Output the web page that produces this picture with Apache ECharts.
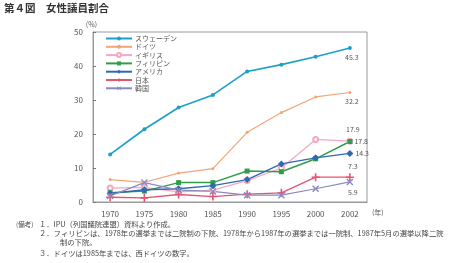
<!DOCTYPE html>
<html>
<head>
<meta charset="utf-8">
<script src="https://cdn.jsdelivr.net/npm/echarts@6/dist/echarts.min.js"></script>
<style>
html, body { margin: 0; padding: 0; background: #fff; }
#chart { width: 474px; height: 263px; }
</style>
</head>
<body>
<div id="chart"></div>
<script>
// 年
const years = ['1970', '1975', '1980', '1985', '1990', '1995', '2000', '2002'];
// 各国の女性議員割合 (%)
const sweden = [14.0, 21.4, 27.8, 31.5, 38.4, 40.4, 42.7, 45.3];
const germany = [6.6, 5.8, 8.5, 9.8, 20.5, 26.3, 30.9, 32.2];
const uk = [4.1, 4.3, 3.0, 3.5, 6.3, 10.0, 18.4, 17.9];
const philippines = [2.7, 3.2, 5.7, 5.7, 9.1, 8.9, 12.7, 17.8];
const usa = [2.5, 3.6, 3.9, 4.8, 6.6, 11.2, 13.0, 14.3];
const japan = [1.4, 1.2, 2.2, 1.6, 2.3, 2.7, 7.3, 7.3];
const korea = [1.8, 5.7, 3.5, 3.1, 2.0, 2.0, 3.9, 5.9];
const yTicks = [0, 10, 20, 30, 40, 50];

const FONT = '"Noto Sans CJK JP", "Noto Sans", sans-serif';
const NOTE_FONT = '7.3px "Noto Sans CJK JP"';
const plusPath = 'path://M4,0H6V4H10V6H6V10H4V6H0V4H4Z';
const crossPath = 'path://M1.4,0L5,3.6L8.6,0L10,1.4L6.4,5L10,8.6L8.6,10L5,6.4L1.4,10L0,8.6L3.6,5L0,1.4Z';

// 最後の点だけ数値ラベルを付ける
const withEndLabel = (arr, pos, offset) => arr.map((v, i) => {
	if (i !== arr.length - 1) return v;
	return {
		value: v,
		label: {
			show: true,
			position: pos,
			distance: 2,
			offset: offset || [0, 0],
			fontSize: 7,
			color: '#555',
			fontFamily: FONT,
			formatter: p => p.value.toFixed(1),
		},
	};
});

const makeSeries = (name, data, color, symbol, size, width, pos, offset) => ({
	name: name,
	type: 'line',
	data: withEndLabel(data, pos, offset),
	symbol: symbol,
	symbolSize: size,
	itemStyle: { color: color },
	lineStyle: { color: color, width: width },
	z: 3,
});

let myChart = echarts.init(document.getElementById('chart'));
myChart.setOption({
	animation: false,
	backgroundColor: '#fff',
	textStyle: { fontFamily: FONT },
	grid: {
		left: 93,
		right: 107,
		top: 32,
		bottom: 61,
		show: true,
		borderColor: '#9a9a9a',
		borderWidth: 1,
	},
	legend: {
		orient: 'vertical',
		left: 105,
		top: 35,
		padding: 0,
		itemWidth: 26,
		itemHeight: 5,
		itemGap: 1.3,
		itemStyle: { borderWidth: 0 },
		textStyle: { fontSize: 7, lineHeight: 6, color: '#555', fontFamily: FONT, padding: [0, 0, 0, -2] },
		data: ['スウェーデン', 'ドイツ', 'イギリス', 'フィリピン', 'アメリカ', '日本', '韓国'],
	},
	xAxis: {
		type: 'category',
		data: years,
		boundaryGap: true,
		axisLine: { lineStyle: { color: '#9a9a9a' } },
		axisTick: { inside: true, length: 3, lineStyle: { color: '#777' } },
		axisLabel: { fontSize: 8, color: '#555', margin: 8 },
		splitLine: { show: false },
	},
	yAxis: {
		type: 'value',
		min: yTicks[0],
		max: yTicks[yTicks.length - 1],
		interval: 10,
		name: '(%)',
		nameGap: 3,
		nameTextStyle: { fontSize: 7, color: '#555', align: 'right', padding: [0, -4, 0, 0] },
		axisLine: { show: true, lineStyle: { color: '#9a9a9a' } },
		axisTick: { show: true, inside: true, length: 3, lineStyle: { color: '#777' } },
		axisLabel: { fontSize: 8, color: '#555', margin: 10 },
		splitLine: { show: false },
	},
	series: [
		makeSeries('スウェーデン', sweden, '#1ba1c6', 'circle', 4, 1.6, 'bottom', [2, 2]),
		makeSeries('ドイツ', germany, '#f2a577', 'circle', 3, 1.2, 'bottom', [2, 2]),
		makeSeries('イギリス', uk, '#f3a9c3', 'emptyCircle', 5, 1.2, 'top', [3, -3]),
		makeSeries('フィリピン', philippines, '#2f9e48', 'rect', 5, 1.5, 'right', [0, 0]),
		makeSeries('アメリカ', usa, '#2e69b1', 'diamond', 7, 1.3, 'right', [0, 0]),
		makeSeries('日本', japan, '#e65570', plusPath, 8, 1.3, 'top', [3, -1]),
		makeSeries('韓国', korea, '#8c89c2', crossPath, 7, 1.2, 'bottom', [3, 1]),
	],
	graphic: [
		{ type: 'text', left: 4, top: 3, style: { text: '第４図　女性議員割合', font: 'bold 10.5px "Noto Sans CJK JP"', fill: '#333' } },
		{ type: 'text', left: 372, top: 209, style: { text: '(年)', font: '7px "Noto Sans CJK JP"', fill: '#555' } },
		{ type: 'text', left: 16, top: 221, style: { text: '(備考)', font: '6.5px "Noto Sans CJK JP"', fill: '#444' } },
		{ type: 'text', left: 39, top: 221, style: { text: '１．IPU（列国議院連盟）資料より作成。', font: NOTE_FONT, fill: '#444' } },
		{ type: 'text', left: 39, top: 230, style: { text: '２．フィリピンは、1978年の選挙までは二院制の下院、1978年から1987年の選挙までは一院制、1987年5月の選挙以降二院', font: NOTE_FONT, fill: '#444' } },
		{ type: 'text', left: 60, top: 239, style: { text: '制の下院。', font: NOTE_FONT, fill: '#444' } },
		{ type: 'text', left: 39, top: 250, style: { text: '３．ドイツは1985年までは、西ドイツの数字。', font: NOTE_FONT, fill: '#444' } },
	],
});
</script>
</body>
</html>
